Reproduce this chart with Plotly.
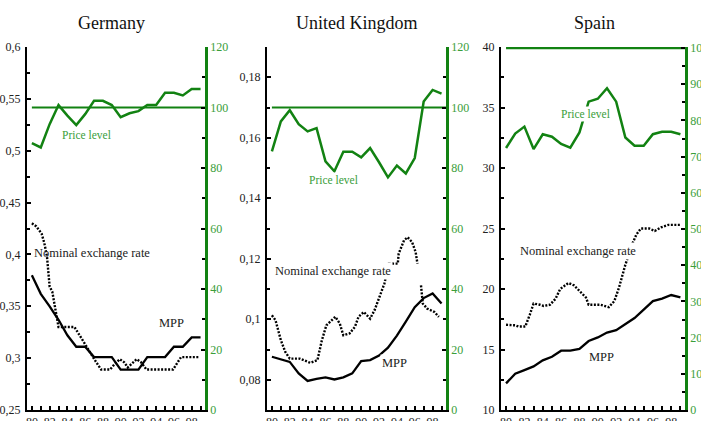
import plotly.graph_objects as go

# ---------------------------------------------------------------- data
years = list(range(80, 100))
base_index = 100

# Germany
de_price = [88.2, 86.8, 94.5, 100.8, 97.3, 94.2, 97.8, 102.2, 102.2, 100.8,
            96.8, 98.1, 98.8, 100.8, 100.8, 104.9, 104.9, 104.0, 106.1, 106.1]
de_mpp = [0.380, 0.362, 0.350, 0.337, 0.322, 0.311, 0.311, 0.301, 0.301, 0.301,
          0.289, 0.289, 0.289, 0.301, 0.301, 0.301, 0.311, 0.311, 0.320, 0.320]
de_ner_t = [80.0, 80.5, 81.1, 81.4, 81.7, 82.0, 82.3, 82.6, 83.0, 84.8, 85.6,
            86.1, 87.1, 87.8, 88.8, 89.3, 89.9, 90.4, 90.8, 91.3, 91.8, 92.3,
            92.9, 95.9, 96.8, 98.9]
de_ner = [0.430, 0.427, 0.420, 0.411, 0.398, 0.369, 0.364, 0.350, 0.330, 0.330,
          0.319, 0.311, 0.298, 0.289, 0.289, 0.294, 0.299, 0.296, 0.291, 0.295,
          0.299, 0.296, 0.289, 0.289, 0.301, 0.301]

# United Kingdom
uk_price = [85.5, 95.4, 99.1, 94.5, 92.1, 93.2, 82.2, 78.9, 85.4, 85.4,
            83.5, 86.6, 81.9, 76.9, 80.8, 78.2, 83.3, 102.0, 105.8, 104.6]
uk_mpp = [0.0876, 0.0868, 0.0859, 0.0821, 0.0796, 0.0803, 0.0808, 0.0801,
          0.0808, 0.0821, 0.0862, 0.0865, 0.0880, 0.0906, 0.0946, 0.0992,
          0.1040, 0.1070, 0.1085, 0.1052]
uk_ner_t = [80.0, 80.4, 81.0, 81.5, 82.0, 83.1, 84.3, 85.1, 85.6, 86.1, 87.1,
            87.6, 88.0, 88.7, 89.3, 89.7, 90.3, 91.0, 91.5, 92.2, 92.6, 93.1,
            94.1, 94.2, 94.8, 95.2, 95.7, 96.1, 96.3, 96.45, 96.7, 96.9, 97.4,
            98.2, 98.7]
uk_ner = [0.1013, 0.0997, 0.0931, 0.0892, 0.0870, 0.0870, 0.0856, 0.0865,
          0.0931, 0.0980, 0.1008, 0.0986, 0.0947, 0.0953, 0.0975, 0.1008,
          0.1024, 0.1002, 0.1030, 0.1085, 0.1118, 0.1184, 0.1184, 0.1217,
          0.1261, 0.1271, 0.1255, 0.1222, 0.1184, None, 0.1112, 0.1052,
          0.1035, 0.1024, 0.1008]

# Spain
es_price = [72.4, 76.4, 78.3, 72.1, 76.2, 75.5, 73.5, 72.5, 76.7, 85.2,
            86.0, 88.9, 85.2, 75.3, 73.0, 73.0, 76.2, 76.9, 76.9, 76.2]
es_mpp = [12.2, 13.0, 13.3, 13.6, 14.1, 14.4, 14.9, 14.9, 15.05, 15.7,
          16.0, 16.4, 16.6, 17.1, 17.6, 18.3, 19.0, 19.2, 19.5, 19.3]
es_ner_t = [80.0, 81.0, 81.35, 82.1, 82.6, 83.0, 83.7, 84.1, 84.8, 85.4, 85.9,
            86.8, 87.4, 88.7, 89.0, 90.3, 91.2, 91.8, 92.3, 92.7, 93.0, 93.8,
            94.2, 94.7, 95.6, 96.2, 96.9, 97.7, 99.1]
es_ner = [17.04, 17.0, 16.9, 16.9, 17.9, 18.8, 18.7, 18.6, 18.7, 19.2, 20.0,
          20.5, 20.3, 19.3, 18.7, 18.7, 18.5, 19.0, 20.1, 21.2, 22.0, 23.8,
          24.5, 25.0, 25.0, 24.8, 25.1, 25.3, 25.3]

titles = ["Germany", "United Kingdom", "Spain"]
year_ticks = list(range(80, 100, 2))

# ---------------------------------------------------------------- style
W, H = 701, 421
FONT = "Liberation Serif"
GREEN = "#128212"
GREEN_TXT = "#3a9e3a"
INK = "#222222"
XRANGE = [79.45, 99.5]
Y_BOT, Y_TOP = 410, 47          # plot area, pixel rows
panels_px = [(27, 205), (267, 446), (501, 685)]
title_x = [111, 357, 594]

def fx(px):
    return px / W

def fy(py):
    return (H - py) / H

fig = go.Figure()

panels = [
    dict(price=de_price, mpp=de_mpp, nt=de_ner_t, ner=de_ner,
         left=dict(range=[0.25, 0.6], dtick=0.05, minor=0.025),
         right=dict(range=[0, 120], dtick=20, minor=10),
         labels=[("Price level", 86.2, 90.9, "r", False),
                 ("Nominal exchange rate", 86.75, 0.401, "l", False),
                 ("MPP", 95.75, 0.334, "l", False)]),
    dict(price=uk_price, mpp=uk_mpp, nt=uk_ner_t, ner=uk_ner,
         left=dict(range=[0.07, 0.19], dtick=0.02, minor=0.01),
         right=dict(range=[0, 120], dtick=20, minor=10),
         labels=[("Price level", 86.9, 76.2, "r", True),
                 ("Nominal exchange rate", 86.85, 0.1158, "l", True),
                 ("MPP", 93.75, 0.0855, "l", True)]),
    dict(price=es_price, mpp=es_mpp, nt=es_ner_t, ner=es_ner,
         left=dict(range=[10, 40], dtick=5, minor=2.5),
         right=dict(range=[0, 100.3], dtick=10, minor=5),
         labels=[("Price level", 88.7, 81.8, "r", True),
                 ("Nominal exchange rate", 87.8, 23.17, "l", True),
                 ("MPP", 90.4, 14.4, "l", True)]),
]

layout = dict(
    width=W, height=H,
    margin=dict(l=0, r=0, t=0, b=0, autoexpand=False),
    paper_bgcolor="white", plot_bgcolor="white",
    showlegend=False,
    separators=", ",
    font=dict(family=FONT, size=12, color=INK),
)
annotations = []

for i, p in enumerate(panels):
    xi = i + 1
    yl = 2 * i + 1
    yr = 2 * i + 2
    xname = "x" if xi == 1 else f"x{xi}"
    ylname = "y" if yl == 1 else f"y{yl}"
    yrname = f"y{yr}"
    x0, x1 = panels_px[i]

    # right axis (index, base 100)
    fig.add_trace(go.Scatter(x=[years[0], XRANGE[1]], y=[base_index, base_index],
                             mode="lines", line=dict(color=GREEN, width=2.2),
                             xaxis=xname, yaxis=yrname, hoverinfo="skip"))
    fig.add_trace(go.Scatter(x=years, y=p["price"], mode="lines",
                             line=dict(color=GREEN, width=2.5),
                             xaxis=xname, yaxis=yrname))
    # left axis (currency units)
    fig.add_trace(go.Scatter(x=p["nt"], y=p["ner"], mode="lines",
                             line=dict(color="black", width=2.4, dash="2px,1.5px"),
                             connectgaps=False, xaxis=xname, yaxis=ylname))
    fig.add_trace(go.Scatter(x=years, y=p["mpp"], mode="lines",
                             line=dict(color="black", width=2.3),
                             xaxis=xname, yaxis=ylname))

    layout["xaxis" if xi == 1 else f"xaxis{xi}"] = dict(
        domain=[fx(x0), fx(x1)], range=XRANGE, anchor=ylname,
        automargin=False,
        showline=True, linecolor="black", linewidth=2,
        showgrid=False, zeroline=False,
        tickmode="array", tickvals=year_ticks,
        ticks="inside", ticklen=4, tickwidth=1.5, tickcolor="black",
        minor=dict(dtick=1, tick0=80, ticks="inside", ticklen=4,
                   tickwidth=1.5, tickcolor="black"),
        tickfont=dict(family=FONT, size=12, color=INK),
    )
    layout["yaxis" if yl == 1 else f"yaxis{yl}"] = dict(
        domain=[fy(Y_BOT), fy(Y_TOP)], range=p["left"]["range"], anchor=xname,
        automargin=False,
        showline=True, linecolor="black", linewidth=2,
        showgrid=False, zeroline=False,
        dtick=p["left"]["dtick"], tick0=0,
        ticks="inside", ticklen=4, tickwidth=1.5, tickcolor="black",
        ticklabelstandoff=2,
        minor=dict(dtick=p["left"]["minor"], tick0=0, ticks="inside",
                   ticklen=3, tickwidth=1.5, tickcolor="black"),
        tickfont=dict(family=FONT, size=12, color=INK),
    )
    layout[f"yaxis{yr}"] = dict(
        domain=[fy(Y_BOT), fy(Y_TOP)], range=p["right"]["range"],
        anchor=xname, overlaying=ylname, side="right",
        automargin=False,
        showline=True, linecolor=GREEN, linewidth=2.5,
        showgrid=False, zeroline=False,
        dtick=p["right"]["dtick"], tick0=0,
        ticks="inside", ticklen=4, tickwidth=1.5, tickcolor="black",
        minor=dict(dtick=p["right"]["minor"], tick0=0, ticks="inside",
                   ticklen=3, tickwidth=1.5, tickcolor="black"),
        tickfont=dict(family=FONT, size=12, color=GREEN_TXT),
    )

    annotations.append(dict(
        text=titles[i], x=fx(title_x[i]), y=fy(23), xref="paper", yref="paper",
        showarrow=False, xanchor="center", yanchor="middle",
        font=dict(family=FONT, size=18, color="#111111")))

    for text, lx, ly, side, boxed in p["labels"]:
        is_price = side == "r"
        annotations.append(dict(
            text=text, x=lx, y=ly, xref=xname,
            yref=yrname if is_price else ylname,
            showarrow=False, xanchor="center", yanchor="middle",
            bgcolor="white" if boxed else "rgba(0,0,0,0)", borderpad=1,
            font=dict(family=FONT, size=11.5 if is_price else 12.5,
                      color=GREEN_TXT if is_price else INK)))

layout["annotations"] = annotations
fig.update_layout(**layout)
fig.write_html("out.html")
